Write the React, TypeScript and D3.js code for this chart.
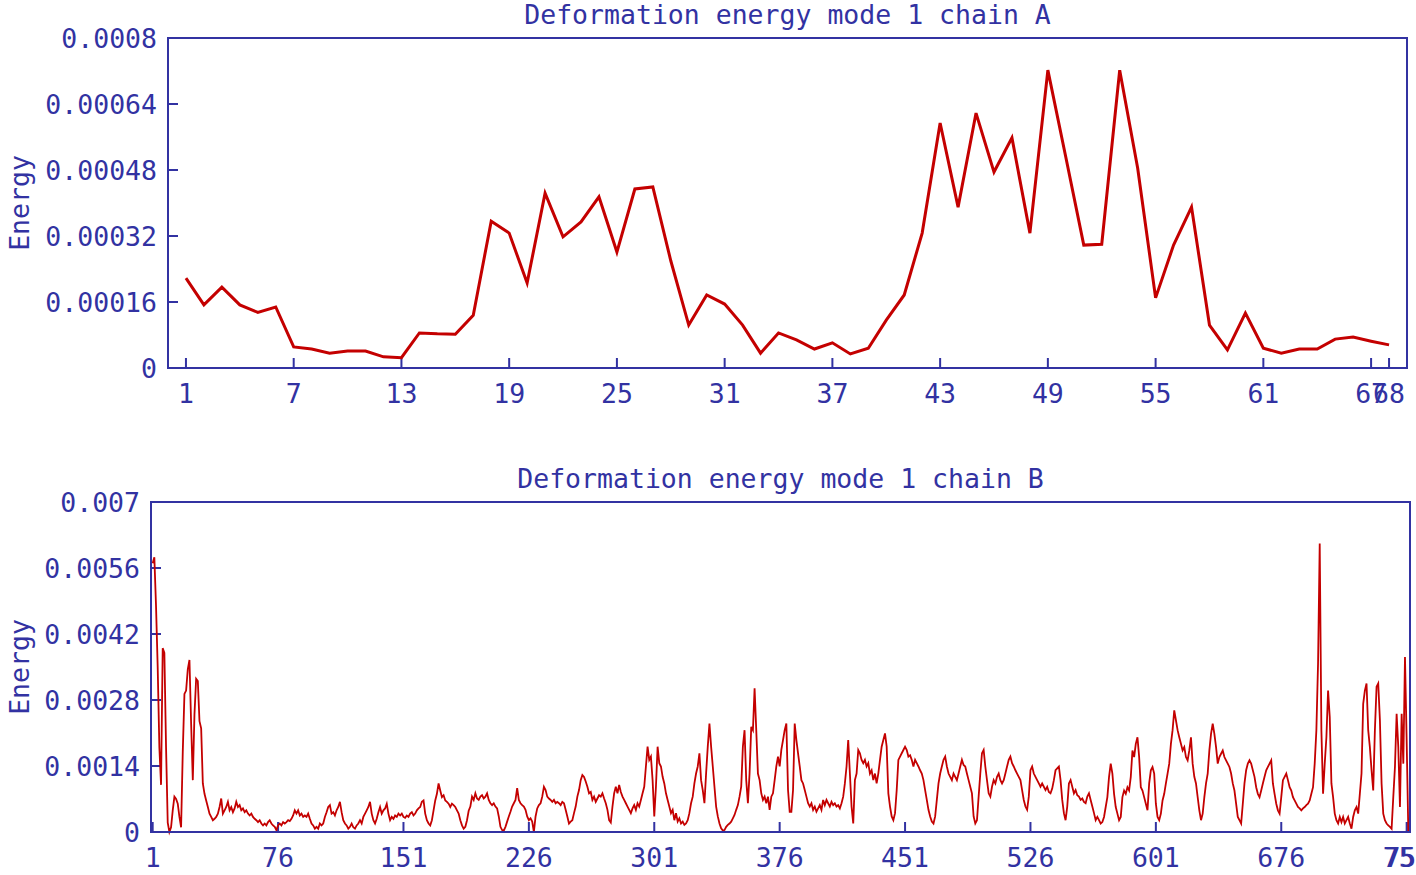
import React from "react";
import * as d3 from "d3";

// chain A, deformation energy per residue (mode 1)
const energyA = [
  0.000218, 0.000153, 0.000196, 0.000153, 0.000135, 0.000148, 0.000051, 0.000046, 0.000036, 0.000041,
  0.000041, 0.000027, 0.000025, 0.000085, 0.000083, 0.000082, 0.000128, 0.000356, 0.000327, 0.000206,
  0.000424, 0.000318, 0.000354, 0.000415, 0.000281, 0.000434, 0.000439, 0.00026, 0.000104, 0.000177,
  0.000155, 0.000104, 0.000036, 0.000085, 0.000068, 0.000046, 0.000061, 0.000034, 0.000048, 0.000116,
  0.000177, 0.000327, 0.000594, 0.00039, 0.000618, 0.000475, 0.000558, 0.000327, 0.000722, 0.000511,
  0.000298, 0.0003, 0.000722, 0.000485, 0.00017, 0.000298, 0.00039, 0.000104, 0.000044, 0.000133,
  0.000048, 0.000036, 0.000046, 0.000046, 0.00007, 0.000075, 0.000065, 0.000056,
];

// chain B, in units of 1e-5
const energyB = [
  570, 583, 480, 350, 180, 100, 390, 380, 180, 20,
  0, 10, 46, 75, 70, 60, 32, 10, 170, 293,
  300, 345, 365, 230, 110, 250, 325, 320, 235, 220,
  103, 81, 67, 53, 39, 32, 25, 28, 32, 39,
  53, 71, 39, 46, 53, 64, 46, 53, 42, 50,
  64, 53, 57, 46, 50, 42, 46, 39, 35, 39,
  32, 28, 25, 21, 25, 18, 14, 18, 14, 21,
  25, 18, 14, 11, 4, 14, 18, 14, 21, 18,
  21, 25, 23, 28, 35, 46, 39, 46, 35, 39,
  32, 35, 32, 39, 28, 18, 14, 7, 11, 7,
  18, 14, 18, 32, 42, 53, 57, 39, 42, 35,
  46, 53, 64, 42, 25, 18, 14, 7, 11, 18,
  10, 7, 14, 18, 25, 18, 32, 39, 46, 53,
  64, 39, 25, 18, 28, 42, 53, 39, 46, 50,
  60, 39, 25, 32, 28, 35, 32, 39, 35, 39,
  32, 30, 35, 32, 39, 42, 35, 39, 46, 50,
  53, 64, 67, 39, 25, 18, 14, 25, 46, 67,
  81, 103, 88, 74, 78, 67, 64, 60, 53, 60,
  57, 53, 46, 39, 25, 14, 7, 11, 25, 45,
  54, 75, 68, 82, 71, 68, 75, 78, 71, 75,
  82, 68, 61, 57, 61, 54, 50, 33, 11, 4,
  3, 11, 22, 33, 43, 54, 61, 68, 93, 68,
  61, 57, 54, 47, 33, 25, 29, 22, 0, 33,
  50, 57, 61, 75, 96, 89, 75, 71, 68, 64,
  68, 61, 64, 61, 57, 64, 61, 47, 33, 18,
  22, 25, 40, 54, 75, 89, 110, 121, 117, 107,
  96, 82, 85, 68, 75, 64, 71, 78, 75, 82,
  71, 61, 47, 25, 20, 54, 82, 96, 82, 100,
  85, 75, 68, 61, 54, 47, 40, 50, 57, 47,
  61, 54, 68, 82, 96, 139, 181, 153, 160, 110,
  33, 96, 181, 146, 139, 117, 103, 82, 68, 54,
  40, 47, 25, 40, 22, 29, 18, 22, 15, 18,
  25, 40, 61, 75, 103, 124, 139, 167, 110, 89,
  61, 124, 181, 230, 181, 139, 96, 54, 33, 18,
  8, 3, 4, 11, 15, 18, 22, 29, 36, 47,
  57, 75, 96, 181, 216, 110, 61, 124, 223, 216,
  305, 216, 124, 110, 82, 68, 75, 61, 75, 47,
  75, 82, 110, 139, 160, 139, 174, 195, 216, 230,
  89, 43, 43, 89, 230, 195, 167, 139, 110, 103,
  89, 75, 61, 54, 61, 47, 54, 43, 50, 57,
  47, 68, 57, 68, 61, 54, 64, 57, 61, 54,
  57, 50, 61, 75, 103, 139, 195, 124, 54, 18,
  110, 124, 174, 167, 153, 146, 153, 139, 146, 124,
  131, 110, 124, 103, 124, 153, 181, 195, 209, 181,
  82, 54, 33, 25, 40, 89, 153, 160, 167, 174,
  181, 174, 160, 163, 153, 139, 153, 146, 139, 131,
  124, 110, 89, 68, 47, 33, 22, 18, 33, 68,
  103, 124, 139, 153, 160, 139, 124, 117, 110, 124,
  117, 110, 124, 139, 153, 142, 139, 124, 110, 96,
  82, 33, 18, 25, 75, 124, 167, 174, 139, 110,
  82, 75, 96, 110, 103, 117, 124, 110, 103, 110,
  124, 139, 153, 160, 146, 139, 131, 124, 117, 110,
  89, 68, 54, 47, 75, 131, 139, 124, 117, 110,
  103, 96, 103, 96, 89, 96, 85, 82, 92, 110,
  131, 135, 139, 110, 68, 40, 25, 54, 103, 110,
  96, 82, 89, 78, 75, 68, 71, 64, 61, 75,
  82, 68, 54, 40, 25, 32, 25, 18, 21, 32,
  53, 74, 117, 145, 124, 81, 53, 39, 25, 32,
  74, 88, 81, 95, 88, 117, 173, 159, 187, 201,
  159, 95, 88, 74, 60, 46, 103, 131, 138, 124,
  60, 32, 25, 39, 67, 81, 103, 124, 145, 187,
  216, 258, 237, 216, 201, 187, 173, 180, 159, 152,
  173, 201, 145, 117, 103, 74, 46, 25, 39, 74,
  103, 124, 173, 208, 230, 208, 180, 145, 159, 166,
  173, 159, 152, 145, 138, 124, 103, 88, 60, 32,
  25, 18, 60, 103, 131, 145, 152, 145, 131, 117,
  95, 81, 74, 88, 103, 117, 131, 138, 145, 152,
  103, 81, 60, 46, 39, 74, 110, 117, 124, 110,
  95, 88, 74, 67, 60, 53, 50, 46, 50, 53,
  57, 60, 67, 81, 95, 145, 216, 357, 612, 216,
  81, 145, 201, 300, 244, 103, 74, 39, 25, 18,
  32, 21, 32, 18, 25, 32, 18, 7, 32, 46,
  53, 39, 81, 124, 272, 300, 315, 216, 180, 131,
  88, 216, 308, 315, 237, 103, 39, 25, 18, 14,
  11, 7, 74, 138, 251, 180, 53, 251, 145, 371,
  194, 0,
];

const yTicksA = [0, 0.00016, 0.00032, 0.00048, 0.00064, 0.0008];
const yTicksB = [0, 0.0014, 0.0028, 0.0042, 0.0056, 0.007];

const BLUE = "#3232a2";
const RED = "#c40000";
const FONT = "'DejaVu Sans Mono', 'Liberation Mono', monospace";

type PanelProps = {
  title: string;
  values: number[];
  yTicks: number[];
  left: number;
  right: number;
  top: number;
  bottom: number;
  lineWidth: number;
};

const Panel = ({ title, values, yTicks, left, right, top, bottom, lineWidth }: PanelProps) => {
  const n = values.length;
  const step = Math.floor(n / 10);
  // ticks every n/10 residues, plus the last residue
  const xTicks = [...d3.range(1, n, step), n];

  const x = d3.scaleLinear().domain([0, n + 1]).range([left, right]);
  const y = d3.scaleLinear().domain([0, yTicks[yTicks.length - 1]]).range([bottom, top]);

  const line = d3.line<number>()
    .x((_, i) => x(i + 1))
    .y(d => y(d));

  return (
    <g fontFamily={FONT} fontSize={26.5} fill={BLUE}>
      <text x={(left + right) / 2} y={top - 14} textAnchor="middle">{title}</text>
      <text
        transform={`translate(29,${(top + bottom) / 2}) rotate(-90)`}
        textAnchor="middle"
      >Energy</text>

      {yTicks.map(t => (
        <g key={"y" + t}>
          <line x1={left} x2={left + 10} y1={y(t)} y2={y(t)} stroke={BLUE} strokeWidth={2} />
          <text x={left - 11} y={y(t)} dy="0.36em" textAnchor="end">{String(t)}</text>
        </g>
      ))}

      {xTicks.map(t => (
        <g key={"x" + t}>
          <line x1={x(t)} x2={x(t)} y1={bottom} y2={bottom - 10} stroke={BLUE} strokeWidth={2} />
          <text x={x(t)} y={bottom + 35} textAnchor="middle">{t}</text>
        </g>
      ))}

      <path d={line(values) ?? ""} fill="none" stroke={RED} strokeWidth={lineWidth} />

      <rect x={left} y={top} width={right - left} height={bottom - top} fill="none" stroke={BLUE} strokeWidth={2} />
    </g>
  );
};

export default function App() {
  const valuesB = energyB.map(v => v * 1e-5);
  return (
    <div style={{ position: "absolute", left: 0, top: 0 }}>
      <svg width={1416} height={875} style={{ display: "block", background: "#fff" }}>
        <Panel
          title="Deformation energy mode 1 chain A"
          values={energyA}
          yTicks={yTicksA}
          left={168} right={1407} top={38} bottom={368}
          lineWidth={3}
        />
        <Panel
          title="Deformation energy mode 1 chain B"
          values={valuesB}
          yTicks={yTicksB}
          left={151} right={1410} top={502} bottom={832}
          lineWidth={1.8}
        />
      </svg>
    </div>
  );
}
